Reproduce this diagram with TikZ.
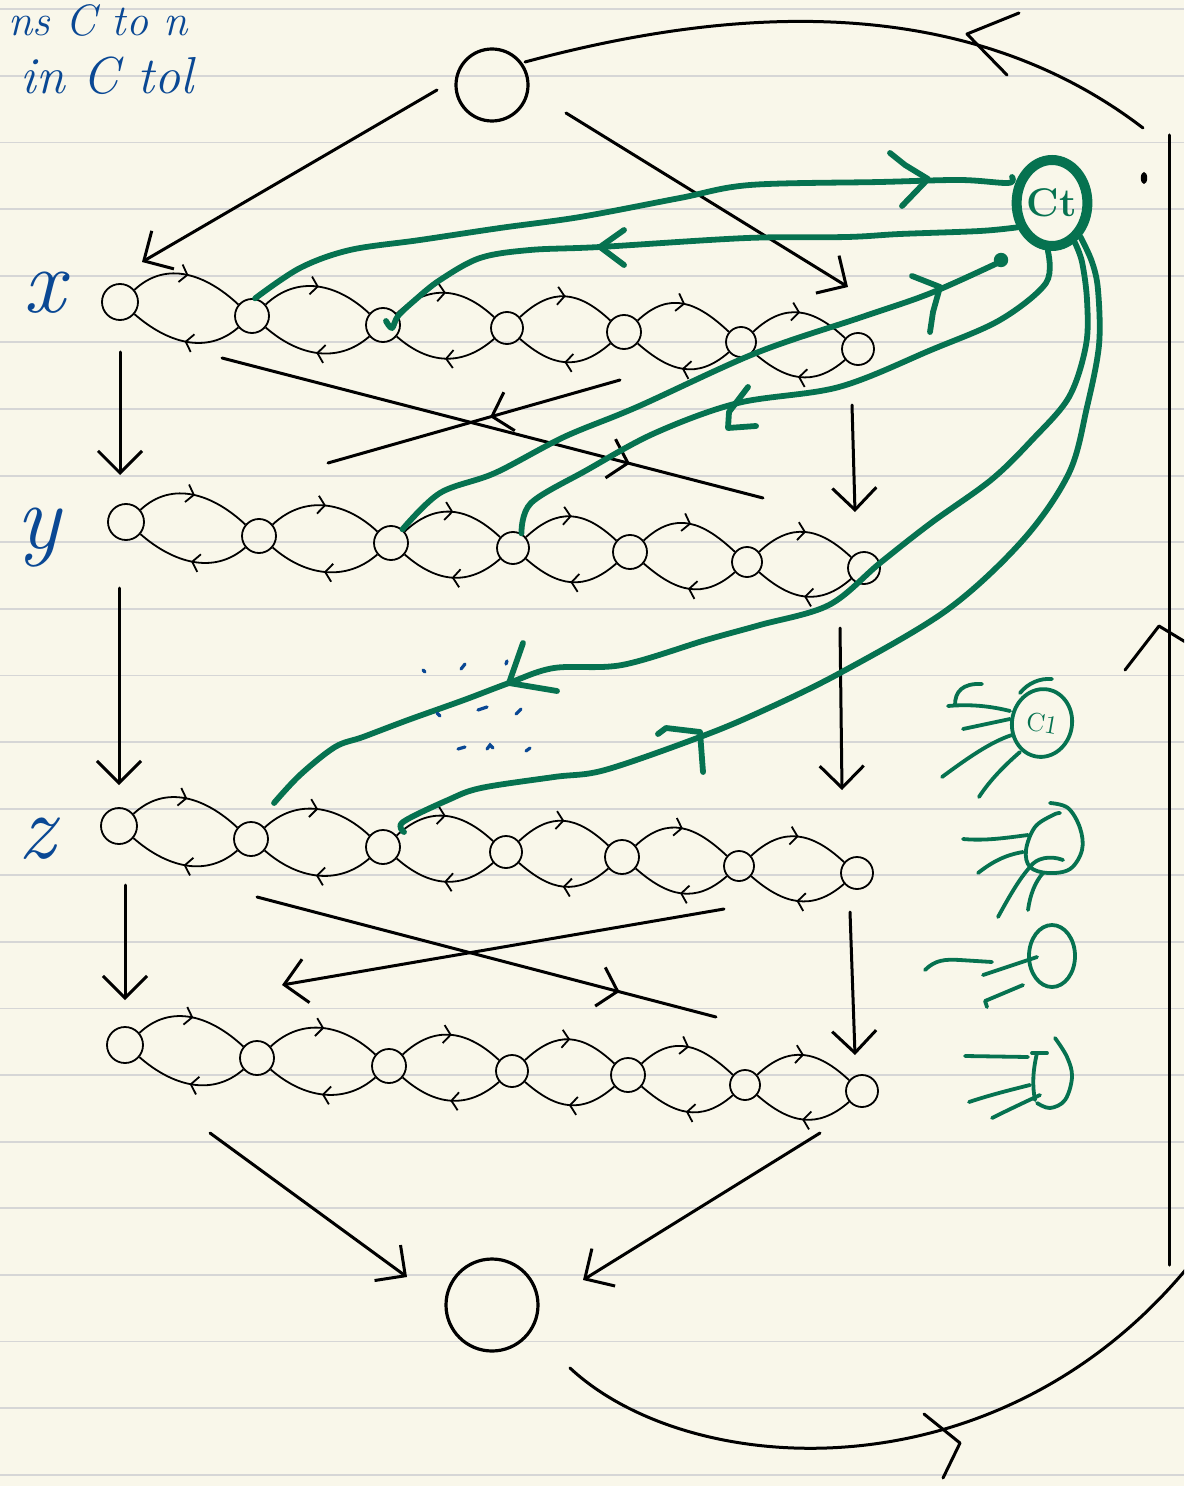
\documentclass[tikz,border=0pt]{standalone}
\usepackage{fontspec}
\usetikzlibrary{arrows.meta,decorations.markings,shapes.geometric}
\definecolor{paper}{RGB}{249,247,234}
\definecolor{ruling}{RGB}{214,214,214}
\definecolor{gink}{RGB}{6,114,80}
\definecolor{bink}{RGB}{10,72,148}
\tikzset{
  chainnode/.style={circle, draw=black, line width=0.9pt, inner sep=0pt},
  endnode/.style={circle, draw=black, line width=1.6pt, inner sep=0pt},
  lensarc/.style={line width=0.9pt, postaction={decorate},
     decoration={markings, mark=at position 0.5 with {\arrow{Straight Barb[length=3.5pt,width=9pt]}}}},
  heavy/.style={line width=1.5pt, line cap=round, line join=round},
  bigtip/.style={-{Straight Barb[length=11pt,width=22pt]}},
  midtip/.style={postaction={decorate},
     decoration={markings, mark=at position #1 with {\arrow{Straight Barb[length=9pt,width=20pt]}}}},
  gline/.style={draw=gink, line width=2.9pt, line cap=round, line join=round},
  gthin/.style={draw=gink, line width=1.9pt, line cap=round, line join=round},
  bluehand/.style={draw=bink, line width=1.6pt, line cap=round},
  rowlabel/.style={text=bink, font=\fontsize{46}{46}\selectfont\itshape, inner sep=0pt, anchor=base},
  notetext/.style={text=bink, font=\fontsize{26}{26}\selectfont\itshape, inner sep=0pt, anchor=base west},
  ruleline/.style={draw=ruling, line width=0.9pt},
}
\begin{document}
\begin{tikzpicture}[x=0.5pt,y=-0.5pt]
\useasboundingbox (0,0) rectangle (1184,1486);
\clip (0,0) rectangle (1184,1486);
\fill[paper] (0,0) rectangle (1184,1486);
\foreach \k in {0,...,22} \draw[ruleline] (0,{9.4+66.6*\k}) -- (1184,{9.4+66.6*\k});

% handwritten notes
\node[notetext, font=\fontsize{22}{22}\selectfont\itshape] (note1) at (8,36) {ns C to n};
\node[notetext] (note2) at (20,94) {in C tol};
\node[rowlabel] (lx) at (44,313) {x};
\node[rowlabel] (ly) at (38,548) {y};
\node[rowlabel] (lz) at (37,858) {z};

% top and bottom nodes
\node[endnode, minimum size=36pt] (top) at (492,85) {};
\node[endnode, minimum size=46pt] (bot) at (492,1305) {};

% chains
\foreach \n/\px/\py/\rad in {1/120/302/18,2/252/316/17,3/383/325/17,4/507/328/16,5/624/332/17,6/741/342/15,7/858/349/16}
  \node[chainnode, minimum size=\rad pt] (x\n) at (\px,\py) {};
\foreach \n/\px/\py/\rad in {1/126/522/18,2/259/536/17,3/391/543/17,4/513/548/16,5/630/552/17,6/747/562/15,7/864/568/16}
  \node[chainnode, minimum size=\rad pt] (y\n) at (\px,\py) {};
\foreach \n/\px/\py/\rad in {1/119/826/18,2/251/839/17,3/383/847/17,4/506/852/16,5/622/857/17,6/739/866/15,7/857/873/16}
  \node[chainnode, minimum size=\rad pt] (z\n) at (\px,\py) {};
\foreach \n/\px/\py/\rad in {1/125/1045/18,2/257/1058/17,3/389/1066/17,4/512/1071/16,5/628/1075/17,6/745/1085/15,7/862/1091/16}
  \node[chainnode, minimum size=\rad pt] (w\n) at (\px,\py) {};
\foreach \row in {x,y,z,w}{
  \foreach \a/\b in {1/2,2/3,3/4,4/5,5/6,6/7}{
    \draw[lensarc] (\row\a.40) .. controls +(32,-30) and +(-32,-30) .. (\row\b.140);
    \draw[lensarc] (\row\b.220) .. controls +(-32,28) and +(32,28) .. (\row\a.320);
  }
}

% arrow end points
\coordinate (t1s) at (437,90);   \coordinate (t1e) at (142,262);
\coordinate (t2s) at (566,113);  \coordinate (t2e) at (848,287);
\coordinate (v1s) at (120,352);  \coordinate (v1e) at (120,475);
\coordinate (v2s) at (119,588);  \coordinate (v2e) at (119,785);
\coordinate (v3s) at (125,885);  \coordinate (v3e) at (125,1000);
\coordinate (r1s) at (852,405);  \coordinate (r1e) at (855,512);
\coordinate (r2s) at (840,628);  \coordinate (r2e) at (842,790);
\coordinate (r3s) at (850,912);  \coordinate (r3e) at (855,1055);
\coordinate (k1s) at (222,358);  \coordinate (k1e) at (763,498);
\coordinate (k2s) at (620,380);  \coordinate (k2e) at (328,463);
\coordinate (k3s) at (257,897);  \coordinate (k3e) at (716,1017);
\coordinate (k4s) at (724,909);  \coordinate (k4e) at (282,985);
\coordinate (b1s) at (210,1133); \coordinate (b1e) at (407,1277);
\coordinate (b2s) at (820,1133); \coordinate (b2e) at (583,1280);

\foreach \s in {t1,t2,v1,v2,v3,r1,r2,r3,k4,b1,b2}
  \draw[heavy, bigtip] (\s s) -- (\s e);
\draw[heavy, midtip=0.754] (k1s) -- (k1e);
\draw[heavy, midtip=0.445] (k2s) -- (k2e);
\draw[heavy, midtip=0.79] (k3s) -- (k3e);

% outer loop
\coordinate (lpa) at (525,62);   \coordinate (lpb) at (1143,128);
\coordinate (lpc) at (1169,135); \coordinate (lpd) at (1169,1265);
\coordinate (lpe) at (570,1368); \coordinate (lpf) at (1192,1262);
\draw[heavy] (lpa) .. controls (700,15) and (950,-20) .. (lpb);
\draw[heavy] (1019,13) -- (967,34) -- (1007,75);
\draw[heavy] (lpc) -- (lpd);
\draw[heavy] (1125,670) -- (1159,626) -- (1192,646);
\fill (1144,178) ellipse (1.6pt and 3pt);
\draw[heavy] (lpe) .. controls (690,1480) and (1000,1500) .. (lpf);
\draw[heavy] (924,1414) -- (960,1443) -- (943,1478);

% green cell
\node[ellipse, draw=gink, line width=5pt, minimum width=34pt, minimum height=43pt, inner sep=0pt,
      text=gink, font=\fontsize{20}{20}\selectfont\bfseries] (c4) at (1052,203) {Ct};

% green paths
\draw[gline] plot[smooth, tension=0.55] coordinates {(x2.80) (300,268) (350,250) (420,240) (500,228) (580,217) (680,198) (750,185) (880,182) (960,180) (1008,183) (1012,177)};
\draw[gline] (890,153) -- (905,165) -- (928,179) -- (902,206);

\draw[gline] plot[smooth, tension=0.55] coordinates {(c4.215) (980,231) (900,234) (847,237) (747,238) (600,247) (530,250) (480,258) (440,280) (415,300) (398,316) (392,328) (386,321)};
\draw[gline] (624,230) -- (600,247) -- (624,265);

\draw[gline] plot[smooth, tension=0.55] coordinates {(y3.50) (440,493) (495,473) (564,437) (637,407) (756,353) (862,317) (931,293) (1004,260)};
\fill[gink] (1001,260) circle (3.6pt);
\draw[gline] (912,276) -- (940,287) -- (933,312) -- (930,332);

\draw[gline] plot[smooth, tension=0.55] coordinates {(y4.60) (531,503) (587,470) (655,433) (738,403) (839,387) (931,350) (1000,320) (1046,283) (c4.265)};
\draw[gline] (748,387) -- (729,412) -- (728,428) -- (756,426);

\draw[gline] plot[smooth, tension=0.55] coordinates {(c4.300) (1082,262) (1087,300) (1086,345) (1069,397) (1032,440) (991,480) (931,523) (880,563) (829,605) (760,625) (706,640) (622,665) (554,668) (509,683) (464,700) (408,720) (363,737) (335,747) (300,775) (274,803)};
\draw[gline] (523,643) -- (509,683) -- (557,691);

\draw[gline] plot[smooth, tension=0.55] coordinates {(c4.310) (1092,262) (1098,290) (1099,345) (1087,407) (1069,473) (1023,540) (947,610) (840,673) (760,712) (700,737) (605,770) (554,777) (481,788) (448,800) (403,822) (404,832)};
\draw[gline] (658,734) -- (666,728) -- (700,732) -- (703,772);

% blue marks
\foreach \ax/\ay/\bx/\by in {423/670/425/672, 461/669/465/664, 506/664/507/661, 437/713/440/716, 478/710/487/707, 516/714/521/709, 458/749/465/747, 526/751/530/748}
  \draw[bluehand] (\ax,\ay) -- (\bx,\by);
\draw[bluehand] (487,749) -- (490,745) -- (493,748);

% side figures
\node[ellipse, draw=gink, line width=1.9pt, minimum width=30pt, minimum height=34pt, inner sep=0pt, rotate=-10,
      text=gink, font=\fontsize{13}{13}\selectfont] (j1) at (1042,723) {C1};
\draw[gthin] (982,684) .. controls (962,683) and (955,692) .. (955,705);
\draw[gthin] (948,706) .. controls (970,704) and (990,706) .. (1010,711);
\draw[gthin] (963,729) -- (1010,719);
\draw[gthin] (942,777) .. controls (965,760) and (990,742) .. (1012,735);
\draw[gthin] (979,797) .. controls (990,780) and (1005,765) .. (1020,752);
\draw[gthin] (1020,693) .. controls (1028,683) and (1040,678) .. (1052,679);

\draw[gthin] plot[smooth, tension=0.6] coordinates {(1050,803) (1068,808) (1080,828) (1082,850) (1070,869) (1048,873) (1030,867) (1026,850) (1035,827) (1053,815) (1060,813)};
\draw[gthin] (963,839) .. controls (985,841) and (1005,838) .. (1028,835);
\draw[gthin] (978,873) .. controls (992,862) and (1005,855) .. (1023,852);
\draw[gthin] (998,917) .. controls (1010,895) and (1020,878) .. (1030,867) .. controls (1036,858) and (1050,855) .. (1063,860);
\draw[gthin] (1028,910) .. controls (1030,895) and (1035,882) .. (1043,873);

\node[ellipse, draw=gink, line width=1.9pt, minimum width=23pt, minimum height=31pt, inner sep=0pt] (j3) at (1052,956) {};
\draw[gthin] (925,970) .. controls (935,960) and (945,959) .. (960,960) -- (992,962);
\draw[gthin] (983,975) -- (1037,957);
\draw[gthin] (987,1007) -- (985,1001) -- (1023,985);

\draw[gthin] plot[smooth, tension=0.6] coordinates {(1055,1038) (1067,1057) (1072,1077) (1065,1100) (1050,1108) (1037,1103)};
\draw[gthin] (1037,1053) .. controls (1033,1070) and (1032,1085) .. (1035,1100);
\draw[gthin] (1032,1053) -- (1047,1053);
\draw[gthin] (965,1056) -- (1028,1057);
\draw[gthin] (969,1102) .. controls (990,1095) and (1010,1090) .. (1030,1085);
\draw[gthin] (992,1118) .. controls (1008,1110) and (1025,1102) .. (1040,1095);
\end{tikzpicture}
\end{document}
